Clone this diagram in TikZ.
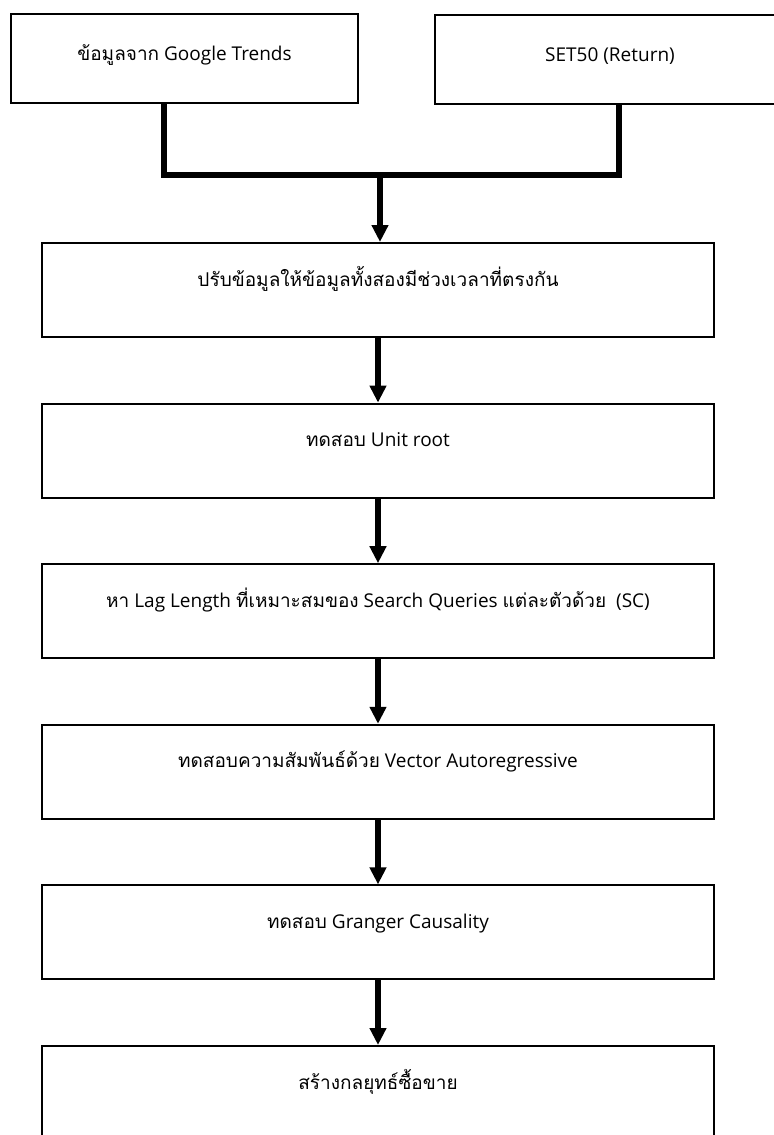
\documentclass[tikz,border=0pt]{standalone}
\usepackage{fontspec}
\setmainfont{Open Sans}
\newfontfamily\thaifont[Script=Thai]{Loma}
\newcommand\tha[1]{{\thaifont #1}}
\usetikzlibrary{positioning,arrows.meta}

\begin{document}
\begin{tikzpicture}[x=0.5pt, y=-0.5pt,
	font=\fontsize{9.5}{11}\selectfont,
	stepbox/.style={draw, line width=1pt, inner sep=0pt,
		minimum width=336pt, minimum height=47pt,
		text height=7pt, text depth=11pt},
	srcbox/.style={stepbox, minimum width=173.5pt, minimum height=44.5pt,
		text depth=4.5pt},
	bar/.style={line width=2.7pt, line join=miter},
	flow/.style={line width=2.7pt, -{Triangle[width=8pt,length=8.5pt]}}]
	
	\useasboundingbox (0,0) rectangle (774,1135);
	
	% ---- Data sources ----
	\node[srcbox] (google) at (184.5,58.5) {\tha{ข้อมูลจาก} Google Trends};
	\node[srcbox, minimum width=175pt] (set) at (610,59) {SET50 (Return)};
	
	% ---- Joining the two sources ----
	\coordinate (jl) at (164,175);
	\coordinate (jr) at (619,175);
	\coordinate (jm) at (380,175);
	\draw[bar] (google.south -| jl) -- (jl) -- (jr) -- (set.south -| jr);
	
	% ---- First step ----
	\node[stepbox] (align) at (378,290) {\tha{ปรับข้อมูลให้ข้อมูลทั้งสองมีช่วงเวลาที่ตรงกัน}};
	\draw[flow] (jm) -- (jm |- align.north);
	
	% ---- Remaining steps, each below the last ----
	\foreach \name/\prev/\txt in {
		unit/align/{\tha{ทดสอบ} Unit root},
		lag/unit/{\tha{หา} Lag Length \tha{ที่เหมาะสมของ} Search Queries \tha{แต่ละตัวด้วย}\ \ (SC)},
		var/lag/{\tha{ทดสอบความสัมพันธ์ด้วย} Vector Autoregressive},
		granger/var/{\tha{ทดสอบ} Granger Causality},
		trade/granger/{\tha{สร้างกลยุทธ์ซื้อขาย}}
	}
	{
		\node[stepbox, below=32.3pt of \prev] (\name) {\txt};
		\draw[flow] (\prev) -- (\name);
	}
	
\end{tikzpicture}
\end{document}
